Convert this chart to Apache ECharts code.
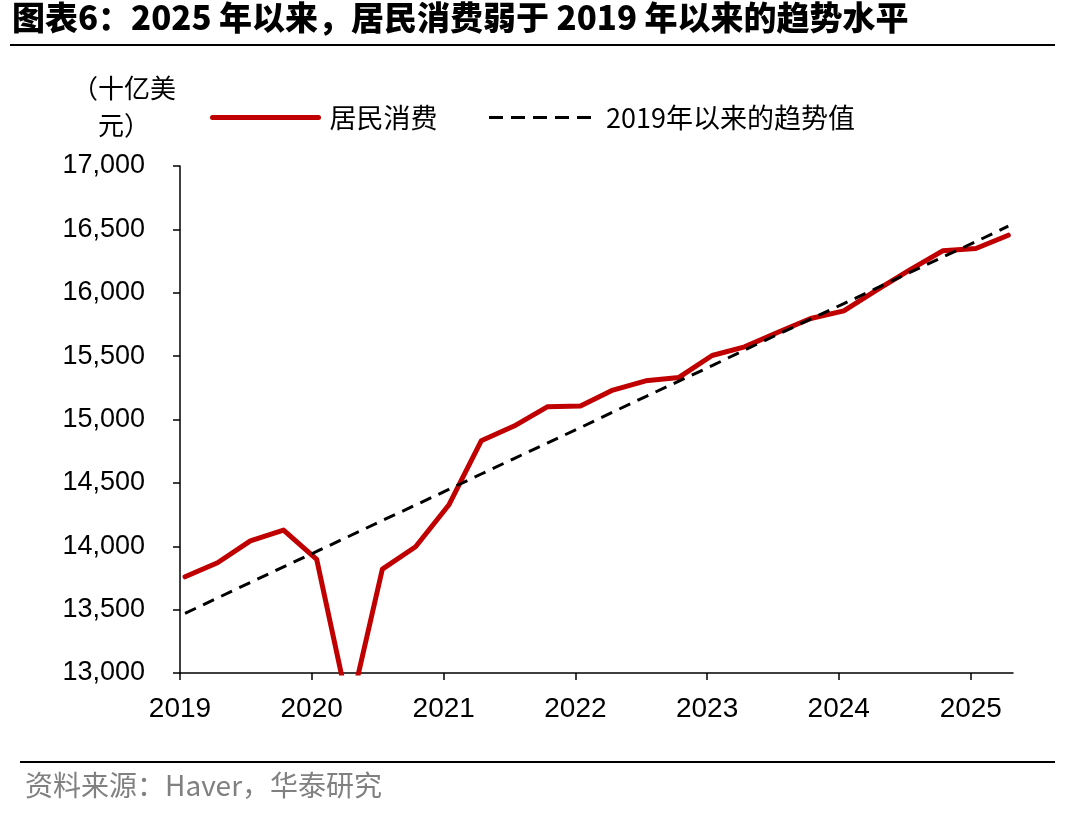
<!DOCTYPE html>
<html>
<head>
<meta charset="utf-8">
<script src="https://cdn.jsdelivr.net/npm/echarts@6/dist/echarts.min.js"></script>
<style>
  html, body { margin: 0; padding: 0; background: #fff; }
  #chart { width: 1091px; height: 817px; }
</style>
</head>
<body>
<div id="chart"></div>
<script>
// quarterly observations (dated mid first month of each quarter)
const quarters = [
  '2019-01-15', '2019-04-15', '2019-07-15', '2019-10-15',
  '2020-01-15', '2020-04-15', '2020-07-15', '2020-10-15',
  '2021-01-15', '2021-04-15', '2021-07-15', '2021-10-15',
  '2022-01-15', '2022-04-15', '2022-07-15', '2022-10-15',
  '2023-01-15', '2023-04-15', '2023-07-15', '2023-10-15',
  '2024-01-15', '2024-04-15', '2024-07-15', '2024-10-15',
  '2025-01-15', '2025-04-15'
];
// 居民消费, 十亿美元
const consumption = [
  13759, 13870, 14043, 14128,
  13896, 12690, 13820, 13996,
  14325, 14832, 14948, 15100,
  15106, 15232, 15305, 15332,
  15505, 15573, 15687, 15797,
  15857, 16020, 16178, 16331,
  16349, 16454
];
// 2019年以来的趋势值
const trend = [
  13470, 13592, 13714, 13837,
  13959, 14081, 14203, 14325,
  14448, 14570, 14692, 14814,
  14936, 15059, 15181, 15303,
  15425, 15548, 15670, 15792,
  15914, 16036, 16159, 16281,
  16403, 16525
];
const seriesNames = ['居民消费', '2019年以来的趋势值'];

const NUM_FONT = 'Liberation Sans, Arial, sans-serif';
const CJK_FONT = 'Noto Sans CJK SC, sans-serif';

const chart = echarts.init(document.getElementById('chart'), null, { renderer: 'canvas' });

const pair = (arr) => quarters.map((d, i) => [d, arr[i]]);

chart.setOption({
  animation: false,
  backgroundColor: '#fff',
  grid: { left: 180, right: 78, top: 166, bottom: 144, containLabel: false },
  legend: {
    left: 205,
    top: 99,
    itemWidth: 106,
    itemHeight: 14,
    itemGap: 50,
    itemStyle: { opacity: 0 },
    textStyle: { fontFamily: CJK_FONT, fontSize: 27, color: '#000', padding: [0, 0, 0, 6] },
    data: [
      { name: seriesNames[0], lineStyle: { width: 5, cap: 'round' } },
      { name: seriesNames[1], lineStyle: { width: 3, type: [14, 8] } }
    ]
  },
  xAxis: {
    type: 'time',
    min: '2019-01-01',
    max: '2025-04-28',
    minInterval: 365 * 864e5,
    maxInterval: 366 * 864e5,
    axisLine: { lineStyle: { color: '#000', width: 1.5 } },
    axisTick: { length: 7, lineStyle: { color: '#000', width: 1.5 } },
    axisLabel: {
      formatter: '{yyyy}',
      fontFamily: NUM_FONT,
      fontSize: 28,
      color: '#000',
      margin: 22,
      showMaxLabel: false
    },
    splitLine: { show: false }
  },
  yAxis: {
    type: 'value',
    min: 13000,
    max: 17000,
    interval: 500,
    axisLine: { show: true, lineStyle: { color: '#000', width: 1.5 } },
    axisTick: { show: true, length: 7, lineStyle: { color: '#000', width: 1.5 } },
    axisLabel: {
      formatter: (v) => v.toLocaleString('en-US'),
      fontFamily: NUM_FONT,
      fontSize: 27,
      color: '#000',
      margin: 35
    },
    splitLine: { show: false }
  },
  series: [
    {
      name: seriesNames[0],
      type: 'line',
      data: pair(consumption),
      showSymbol: false,
      symbol: 'none',
      clip: true,
      z: 3,
      lineStyle: { color: '#C00000', width: 5, cap: 'round', join: 'round' },
      itemStyle: { color: '#C00000' }
    },
    {
      name: seriesNames[1],
      type: 'line',
      data: pair(trend),
      showSymbol: false,
      symbol: 'none',
      clip: true,
      z: 4,
      lineStyle: { color: '#000', width: 3, type: [12, 8] },
      itemStyle: { color: '#000' }
    }
  ],
  graphic: [
    {
      type: 'text', left: 12, top: 1,
      style: {
        text: '图表6：2025 年以来，居民消费弱于 2019 年以来的趋势水平',
        font: '900 33px ' + CJK_FONT, fill: '#000'
      }
    },
    {
      type: 'line', shape: { x1: 10, y1: 45, x2: 1055, y2: 45 },
      style: { stroke: '#000', lineWidth: 2 }
    },
    {
      type: 'text', x: 124, y: 70,
      style: {
        text: '（十亿美\n元）', align: 'center', verticalAlign: 'top',
        font: '26px ' + CJK_FONT, fill: '#000', lineHeight: 37
      }
    },
    {
      type: 'line', shape: { x1: 20, y1: 762, x2: 1055, y2: 762 },
      style: { stroke: '#000', lineWidth: 2 }
    },
    {
      type: 'text', left: 25, top: 771,
      style: {
        text: '资料来源：Haver，华泰研究',
        font: '28px ' + CJK_FONT, fill: '#808080'
      }
    }
  ]
});
</script>
</body>
</html>
